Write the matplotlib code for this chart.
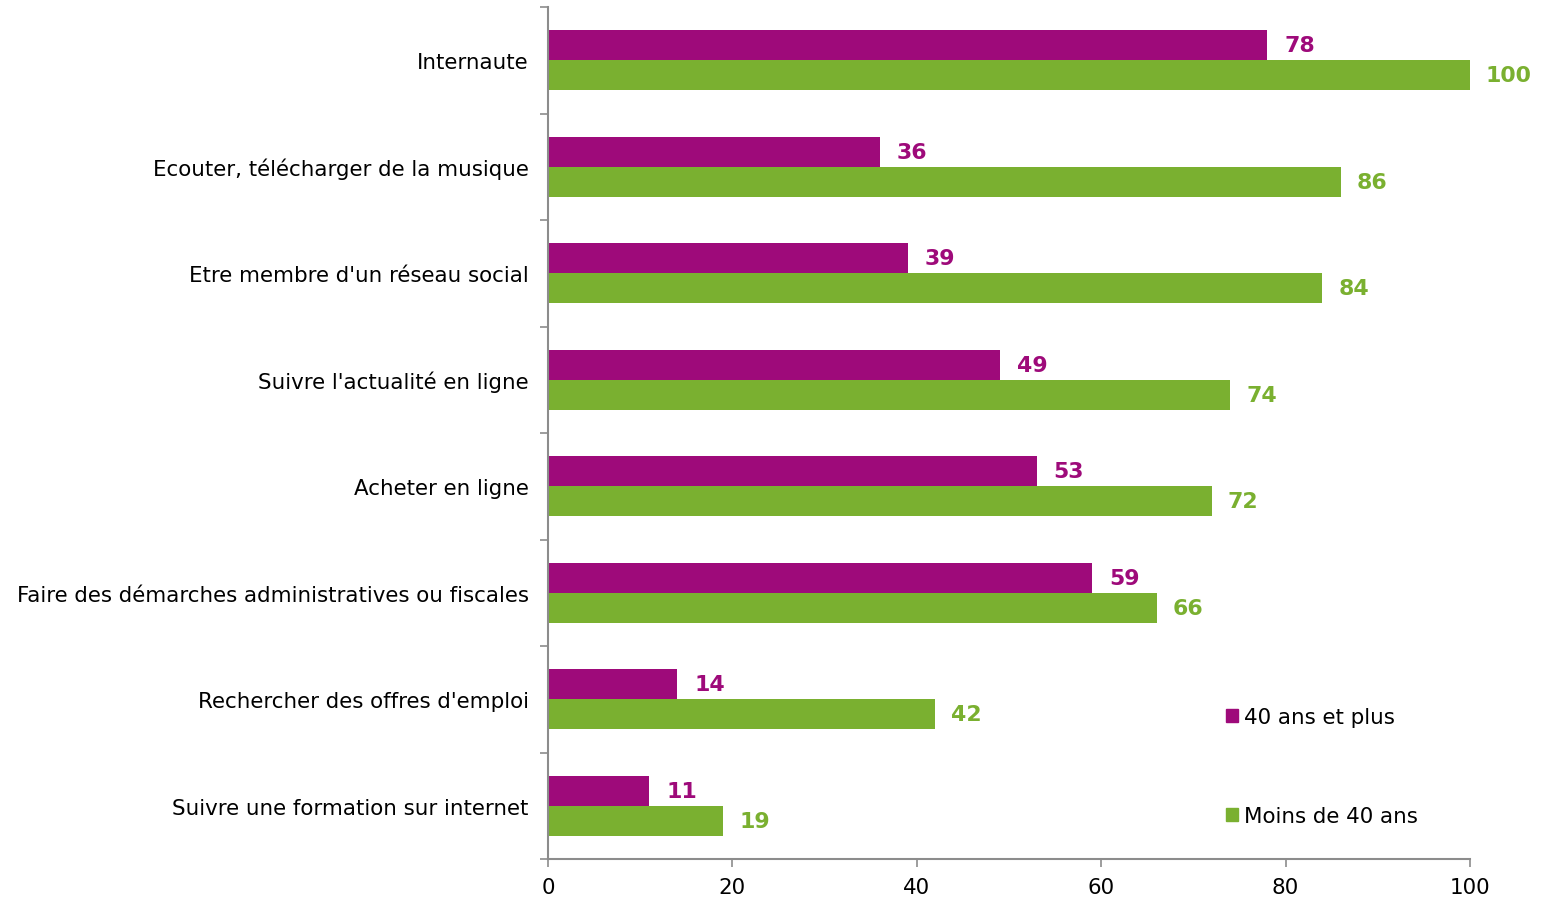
import matplotlib
matplotlib.use("Agg")
import matplotlib.pyplot as plt
import numpy as np
from matplotlib.patches import Patch

plt.rcParams['font.family'] = ['DejaVu Sans']

categories = [
    "Internaute",
    "Ecouter, télécharger de la musique",
    "Etre membre d'un réseau social",
    "Suivre l'actualité en ligne",
    "Acheter en ligne",
    "Faire des démarches administratives ou fiscales",
    "Rechercher des offres d'emploi",
    "Suivre une formation sur internet",
]
plus_40 = [78, 36, 39, 49, 53, 59, 14, 11]
moins_40 = [100, 86, 84, 74, 72, 66, 42, 19]
series_names = ["40 ans et plus", "Moins de 40 ans"]
x_ticks = [0, 20, 40, 60, 80, 100]

PURPLE = "#9E0A7A"
GREEN = "#7AB030"
AXIS = "#8C8C8C"
FS = 15.4

fig = plt.figure(figsize=(15.47, 9.03), dpi=100)
ax = fig.add_axes([548 / 1547, 1 - 860 / 903, (1470 - 548) / 1547, (860 - 8) / 903])

y = np.arange(len(categories))
h = 0.282
ax.barh(y - h / 2, plus_40, height=h, color=PURPLE, label=series_names[0])
ax.barh(y + h / 2, moins_40, height=h, color=GREEN, label=series_names[1])

for yi, v in zip(y, plus_40):
    ax.annotate(str(v), (v, yi - h / 2), xytext=(17, 0), textcoords="offset pixels",
                va="center", ha="left", color=PURPLE, fontsize=15.8, fontweight="bold")
for yi, v in zip(y, moins_40):
    ax.annotate(str(v), (v, yi + h / 2), xytext=(16, 0), textcoords="offset pixels",
                va="center", ha="left", color=GREEN, fontsize=15.8, fontweight="bold")

ax.set_ylim(len(categories) - 0.5, -0.5)
ax.set_xlim(0, 100)
ax.set_yticks(y)
ax.set_yticklabels(categories, fontsize=FS)
ax.set_yticks(np.arange(-0.5, len(categories) + 0.5, 1), minor=True)
ax.tick_params(axis="y", which="major", length=0, pad=14)
ax.tick_params(axis="y", which="minor", length=6, color=AXIS, width=1.2)
ax.set_xticks(x_ticks)
ax.tick_params(axis="x", labelsize=FS, length=6, color=AXIS, width=1.2, pad=7)

for side in ("top", "right"):
    ax.spines[side].set_visible(False)
for side in ("left", "bottom"):
    ax.spines[side].set_color(AXIS)
    ax.spines[side].set_linewidth(1.5)

handles = [Patch(color=PURPLE), Patch(color=GREEN)]
ax.legend(handles, series_names, loc="upper left", bbox_to_anchor=(0.7265, 0.1883),
          frameon=False, fontsize=FS, handlelength=0.56, handleheight=0.56,
          handletextpad=0.25, labelspacing=3.67, borderaxespad=0)

fig.savefig("out.png", dpi=100)
